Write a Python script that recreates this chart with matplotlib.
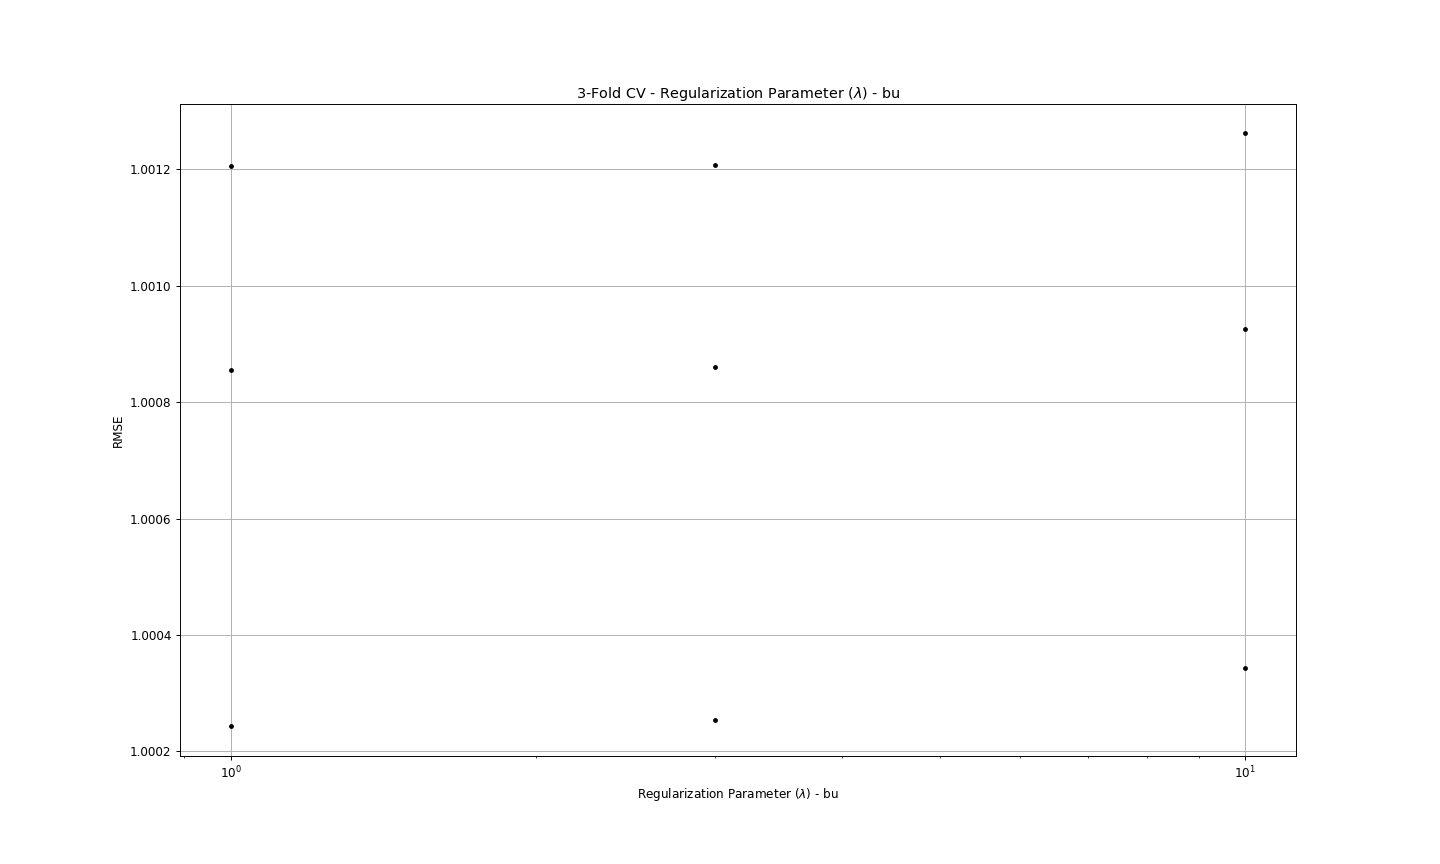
import matplotlib
matplotlib.use("Agg")
import matplotlib.pyplot as plt

lambdas = [1, 1, 1, 3, 3, 3, 10, 10, 10]
rmse = [1.0012052, 1.0008548, 1.0002430,
        1.0012069, 1.0008600, 1.0002533,
        1.0012618, 1.0009253, 1.0003426]

DPI = 86.4
fig, ax = plt.subplots(figsize=(1440 / DPI, 864 / DPI), dpi=DPI)
fig.subplots_adjust(left=0.125, right=0.9, top=0.88, bottom=0.125)
ax.plot(lambdas, rmse, 'k.', linestyle='none')
ax.set_xscale('log')
ax.grid(True)
ax.set_title(r'3-Fold CV - Regularization Parameter ($\lambda$) - bu', pad=4.5)
ax.set_xlabel(r'Regularization Parameter ($\lambda$) - bu')
ax.set_ylabel('RMSE')
fig.savefig('out.png', dpi=DPI)
